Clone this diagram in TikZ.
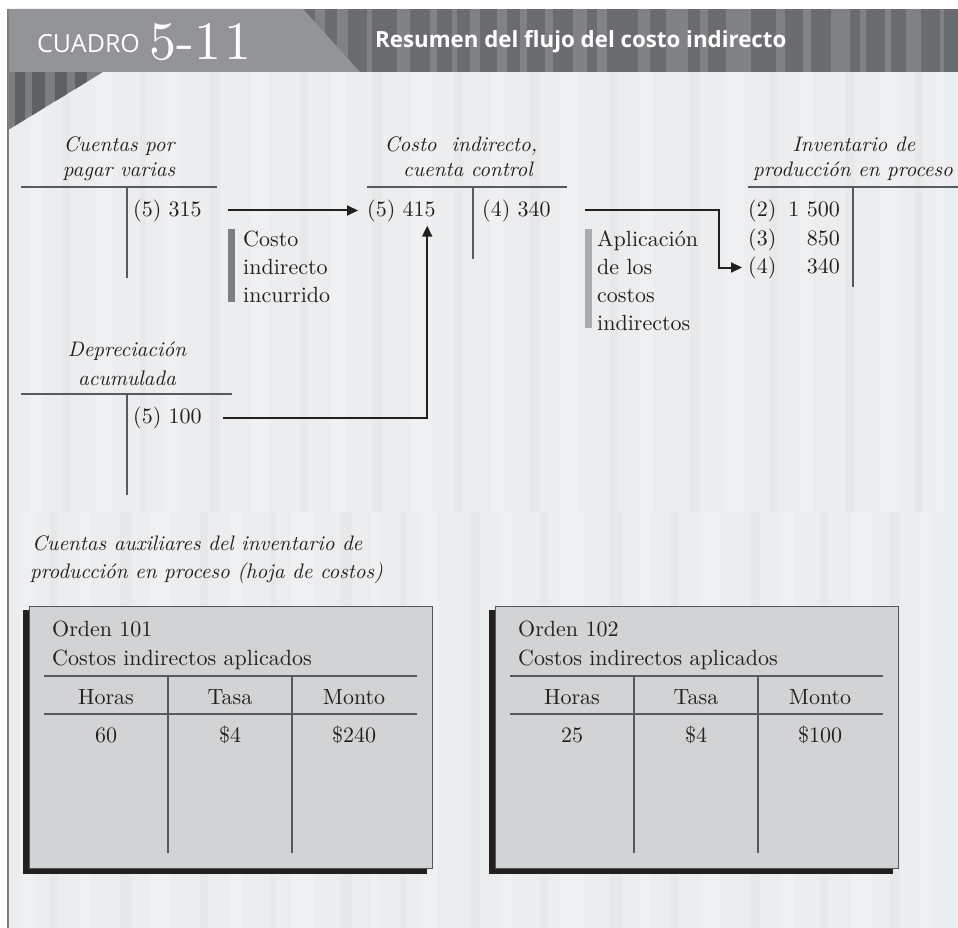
\documentclass[tikz,border=0pt]{standalone}
\usepackage{fontspec}
\setmainfont{lmroman10-regular.otf}[ItalicFont=lmroman10-italic.otf, BoldFont=lmroman10-bold.otf]
\newfontfamily\hdfont{Open Sans}
\usetikzlibrary{arrows.meta}
\definecolor{bgl}{HTML}{ECEDEF}
\definecolor{bgs1}{HTML}{EFF0F2}
\definecolor{bgs2}{HTML}{E7E8E9}
\definecolor{banddark}{HTML}{6B6C70}
\definecolor{bandlite}{HTML}{818286}
\definecolor{bandmid}{HTML}{939497}
\definecolor{tridark}{HTML}{5F6064}
\definecolor{trilite}{HTML}{7C7D81}
\definecolor{tcol}{HTML}{58595B}
\definecolor{arrc}{HTML}{231F20}
\definecolor{barone}{HTML}{7D7E81}
\definecolor{bartwo}{HTML}{A9AAAC}
\definecolor{boxfill}{HTML}{D2D3D5}
\definecolor{boxedge}{HTML}{555658}
\tikzset{
  itl/.style={font=\itshape\fontsize{21}{25}\selectfont, anchor=base, inner sep=0pt, text=arrc},
  txt/.style={font=\fontsize{22}{26}\selectfont, anchor=base west, inner sep=0pt, text=arrc},
  tline/.style={draw=tcol, line width=1.2pt},
  arr/.style={draw=arrc, line width=2pt, -{Triangle[length=11pt,width=10pt]}},
}
\begin{document}
\begin{tikzpicture}[x=1pt,y=-1pt]
\useasboundingbox (0,0) rectangle (958,928);
\fill[white] (0,0) rectangle (958,928);
% light background with subtle stripes
\fill[bgl] (8,9) rectangle (958,928);
\foreach \x/\w in {30/12,95/18,165/14,250/20,330/16,410/22,490/14,560/18,640/14,725/20,800/14,880/20,935/10}
  \fill[bgs1] (\x,72) rectangle ++(\w,440);
\foreach \x/\w in {62/8,140/6,210/10,300/8,372/10,455/8,530/10,610/8,690/10,770/8,845/10,915/8}
  \fill[bgs2] (\x,72) rectangle ++(\w,440);
\foreach \x/\w in {20/16,80/10,150/20,230/12,290/24,370/10,420/18,500/12,560/24,640/10,700/20,780/14,850/22,920/12}
  \fill[bgs1] (\x,512) rectangle ++(\w,416);
\foreach \x/\w in {50/8,120/12,200/8,270/6,340/12,400/6,470/10,540/8,610/12,670/8,750/10,820/8,890/10}
  \fill[bgs2] (\x,512) rectangle ++(\w,416);
% header band
\fill[banddark] (8,9) rectangle (958,72);
\foreach \x/\w in {315/10,337/11,367/5,397/13,430/7,452/5,470/10,497/10,520/7,545/8,573/14,597/10,638/12,666/22,700/8,726/25,776/9,803/8,831/19,860/6,885/6,906/15,940/4}
  \fill[bandlite] (\x,9) rectangle ++(\w,63);
\fill[bandmid] (8,9) -- (303,9) -- (360,72) -- (8,72) -- cycle;
% striped corner triangle
\begin{scope}
  \clip (8,72) -- (103,72) -- (8,130) -- cycle;
  \fill[trilite] (8,72) rectangle (103,130);
  \foreach \x/\w in {15/10,32/13,55/12,75/12}
    \fill[tridark] (\x,72) rectangle ++(\w,58);
\end{scope}
\draw[draw=gray, line width=1.2pt] (8,9) -- (8,928);
% title
\node[anchor=base west, inner sep=0pt, text=white, font=\hdfont\fontsize{25}{30}\selectfont] (cuadro) at (37,53) {CUADRO};
\node[anchor=base west, inner sep=0pt, text=white, font=\fontsize{54}{60}\selectfont] (numero) at (149,60) {5-1\kern3pt1};
\node[anchor=base west, inner sep=0pt, text=white, font=\hdfont\bfseries\fontsize{22.3}{26}\selectfont] (titulo) at (375,48) {Resumen del flujo del costo indirecto};
% T-account headings
\node[itl] (h1a) at (119,152) {Cuentas por};
\node[itl] (h1b) at (119,177) {pagar varias};
\node[itl] (h2a) at (461,152) {Costo\ \ indirecto,};
\node[itl] (h2b) at (468,177) {cuenta control};
\node[itl] (h3a) at (854,152) {Inventario de};
\node[itl] (h3b) at (853,177) {producción en proceso};
\node[itl] (h4a) at (127,356) {Depreciación};
\node[itl] (h4b) at (127,385) {acumulada};
% T lines
\draw[tline] (21,187) -- (217,187) (127,187) -- (127,278);
\draw[tline] (367,187) -- (567,187) (473,187) -- (473,259);
\draw[tline] (748,187) -- (958,187) (853,187) -- (853,287);
\draw[tline] (21,394) -- (232,394) (127,394) -- (127,495);
% values
\node[txt] (v315) at (133,216) {(5) 315};
\node[txt] (v415) at (367,216) {(5) 415};
\node[txt] (v340) at (482,216) {(4) 340};
\node[txt] (v100) at (133,423) {(5) 100};
\node[txt] (p2) at (748,216) {(2)};
\node[txt] (p3) at (748,245) {(3)};
\node[txt] (p4) at (748,273) {(4)};
\node[txt, anchor=base east] (n2) at (840,216) {1 500};
\node[txt, anchor=base east] (n3) at (840,245) {850};
\node[txt, anchor=base east] (n4) at (840,273) {340};
% side notes
\fill[barone] (228,229) rectangle (235,302);
\node[txt] (c1) at (243,246) {Costo};
\node[txt] (c2) at (243,274) {indirecto};
\node[txt] (c3) at (243,302) {incurrido};
\fill[bartwo] (585,229) rectangle (592,328);
\node[txt] (a1) at (597,246) {Aplicación};
\node[txt] (a2) at (597,274) {de los};
\node[txt] (a3) at (597,302) {costos};
\node[txt] (a4) at (597,330) {indirectos};
% arrows
\coordinate (bend3) at (719,211);
\draw[arr, shorten <=26.6pt, shorten >=9pt] (v315.east) -- (v415.west);
\draw[arr, shorten <=21.6pt, shorten >=4pt] (v100.east) -| ([xshift=25.8pt]v415.south);
\draw[arr, shorten <=34.6pt, shorten >=6pt] (v340.east) -- (v340.east -| bend3) |- (p4.west);
% subsidiary ledger
\node[itl, anchor=base west] (s1) at (32,550) {Cuentas auxiliares del inventario de};
\node[itl, anchor=base west] (s2) at (30,578) {producción en proceso (hoja de costos)};
\foreach \dx/\ord/\h/\m/\id in {0/101/60/240/a, 466/102/25/100/b}{
  \begin{scope}[xshift=\dx pt]
    \fill[arrc] (23,610) rectangle (427,874);
    \draw[draw=boxedge, line width=1pt, fill=boxfill] (29,606) rectangle (432,868);
    \draw[tline] (44,676) -- (417,676) (44,714) -- (417,714) (168,676) -- (168,853) (292,676) -- (292,853);
    \node[txt] (ord\id) at (52,636) {Orden \ord};
    \node[txt] (cia\id) at (52,665) {Costos indirectos aplicados};
    \node[txt, anchor=base] (hor\id) at (106,704) {Horas};
    \node[txt, anchor=base] (tas\id) at (230,704) {Tasa};
    \node[txt, anchor=base] (mon\id) at (354,704) {Monto};
    \node[txt, anchor=base] (vh\id) at (106,742) {\h};
    \node[txt, anchor=base] (vt\id) at (230,742) {\$4};
    \node[txt, anchor=base] (vm\id) at (354,742) {\$\m};
  \end{scope}
}
\end{tikzpicture}
\end{document}
